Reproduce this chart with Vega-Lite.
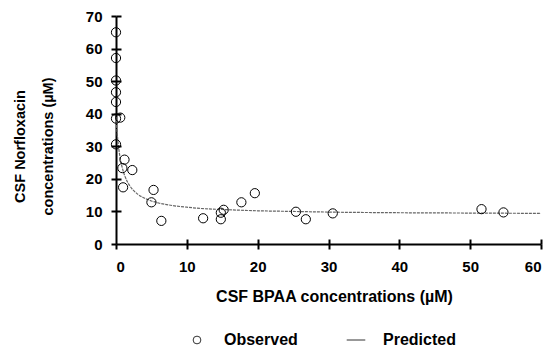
{
  "$schema": "https://vega.github.io/schema/vega-lite/v6.json",
  "autosize": "none",
  "width": 425,
  "height": 228,
  "padding": {"left": 116, "top": 16, "right": 7, "bottom": 103},
  "background": "white",
  "config": {
    "view": {"stroke": null},
    "font": "Liberation Sans",
    "axis": {"grid": false, "domainColor": "black", "tickColor": "black", "domainWidth": 2, "tickWidth": 2, "labelFont": "Liberation Sans", "labelFontWeight": "bold", "labelFontSize": 15, "labelColor": "black", "labelOverlap": false, "titleFont": "Liberation Sans", "titleFontWeight": "bold", "titleColor": "black"}
  },
  "resolve": {"axis": {"x": "independent", "y": "independent"}},
  "datasets": {
    "obs": [
      {"x": 0.0, "y": 65.0, "type": "Observed"},
      {"x": 0.0, "y": 57.1, "type": "Observed"},
      {"x": 0.0, "y": 50.2, "type": "Observed"},
      {"x": 0.0, "y": 46.6, "type": "Observed"},
      {"x": 0.0, "y": 43.6, "type": "Observed"},
      {"x": 0.0, "y": 38.5, "type": "Observed"},
      {"x": 0.6, "y": 38.8, "type": "Observed"},
      {"x": 0.0, "y": 30.6, "type": "Observed"},
      {"x": 1.2, "y": 25.9, "type": "Observed"},
      {"x": 0.9, "y": 23.3, "type": "Observed"},
      {"x": 2.3, "y": 22.7, "type": "Observed"},
      {"x": 1.0, "y": 17.4, "type": "Observed"},
      {"x": 5.3, "y": 16.6, "type": "Observed"},
      {"x": 5.0, "y": 12.8, "type": "Observed"},
      {"x": 6.4, "y": 7.1, "type": "Observed"},
      {"x": 12.3, "y": 7.9, "type": "Observed"},
      {"x": 14.8, "y": 9.6, "type": "Observed"},
      {"x": 15.2, "y": 10.5, "type": "Observed"},
      {"x": 14.8, "y": 7.6, "type": "Observed"},
      {"x": 17.7, "y": 12.8, "type": "Observed"},
      {"x": 19.6, "y": 15.6, "type": "Observed"},
      {"x": 25.4, "y": 9.9, "type": "Observed"},
      {"x": 26.8, "y": 7.6, "type": "Observed"},
      {"x": 30.6, "y": 9.4, "type": "Observed"},
      {"x": 51.6, "y": 10.7, "type": "Observed"},
      {"x": 54.7, "y": 9.7, "type": "Observed"}
    ],
    "pred": [
      {"x": 0, "y": 39.0}, {"x": 0.25, "y": 32.0}, {"x": 0.5, "y": 27.6},
      {"x": 1, "y": 22.5}, {"x": 1.5, "y": 19.6}, {"x": 2, "y": 17.7},
      {"x": 3, "y": 15.4}, {"x": 4, "y": 14.1}, {"x": 5, "y": 13.2},
      {"x": 6, "y": 12.6}, {"x": 8, "y": 11.8}, {"x": 10, "y": 11.3},
      {"x": 12, "y": 10.9}, {"x": 15, "y": 10.6}, {"x": 20, "y": 10.2},
      {"x": 25, "y": 10.0}, {"x": 30, "y": 9.8}, {"x": 40, "y": 9.6},
      {"x": 50, "y": 9.5}, {"x": 60, "y": 9.4}
    ]
  },
  "layer": [
    {
      "data": {"name": "pred"},
      "mark": {"type": "line", "color": "#666666", "strokeWidth": 1.2, "strokeDash": [3, 1], "interpolate": "monotone"},
      "encoding": {
        "x": {"field": "x", "type": "quantitative", "scale": {"domain": [0, 60], "nice": false},
          "axis": {"title": "CSF BPAA concentrations (µM)", "titleFontSize": 16, "titleX": 218, "values": [0, 10, 20, 30, 40, 50, 60], "tickSize": 5, "labelPadding": 10, "titlePadding": 14}},
        "y": {"field": "y", "type": "quantitative", "scale": {"domain": [0, 70], "nice": false},
          "axis": {"title": ["CSF Norfloxacin", "concentrations (µM)"], "titleFontSize": 14.5, "values": [0, 10, 20, 30, 40, 50, 60, 70], "tickSize": 5, "labelPadding": 9, "titlePadding": 30, "titleLineHeight": 28, "titleY": 130}}
      }
    },
    {
      "data": {"name": "obs"},
      "mark": {"type": "point", "filled": false, "stroke": "black", "strokeWidth": 1, "size": 85, "opacity": 1},
      "encoding": {
        "x": {"field": "x", "type": "quantitative",
          "axis": {"orient": "top", "offset": -228, "domain": false, "labels": false, "title": null, "values": [10, 20, 30, 40, 50, 60], "tickSize": 5, "zindex": 2}},
        "y": {"field": "y", "type": "quantitative",
          "axis": {"orient": "right", "offset": -425, "domain": false, "labels": false, "title": null, "values": [10, 20, 30, 40, 50, 60, 70], "tickSize": 5, "zindex": 2}},
        "shape": {"field": "type", "type": "nominal",
          "scale": {"domain": ["Observed", "Predicted"], "range": ["circle", "M-2.4,0L2.4,0"]},
          "legend": {"title": null, "orient": "none", "direction": "horizontal", "legendX": 73, "legendY": 316,
            "labelFont": "Liberation Sans", "labelFontWeight": "bold", "labelFontSize": 16, "labelColor": "black",
            "symbolStrokeColor": "#333333", "symbolStrokeWidth": 1, "symbolSize": 60, "labelOffset": 19, "columnPadding": 46}}
      }
    }
  ]
}
